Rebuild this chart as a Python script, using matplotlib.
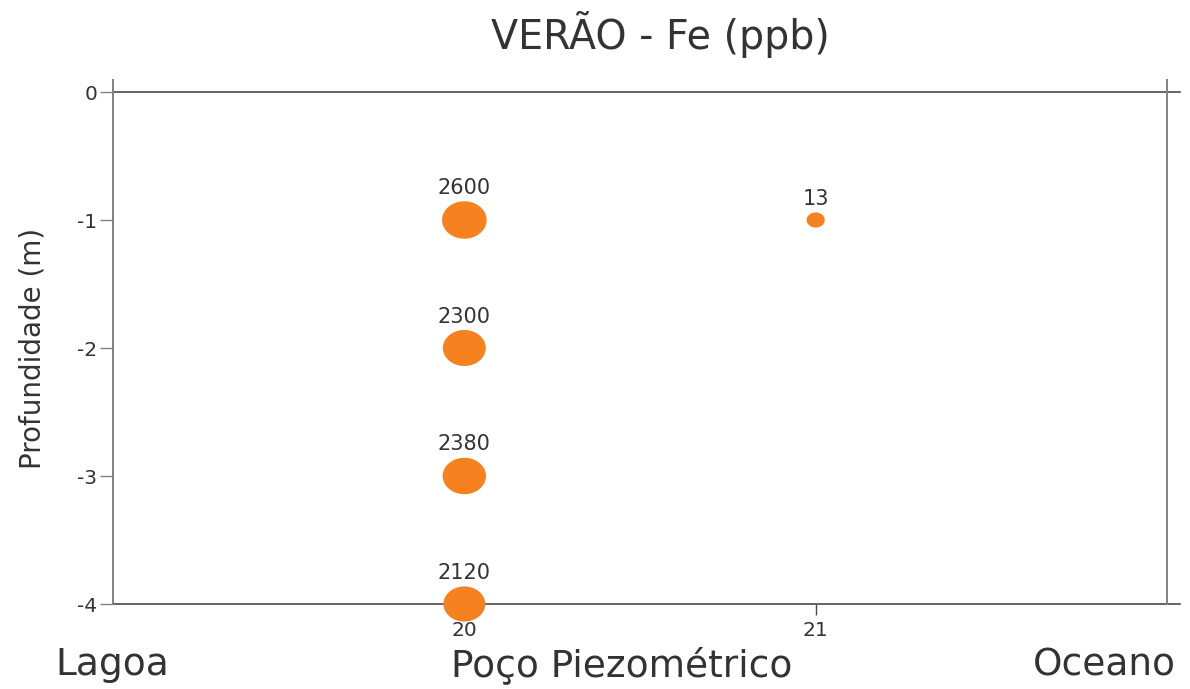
import matplotlib.pyplot as plt
import numpy as np
from matplotlib.path import Path

plt.rcParams['font.family'] = ['DejaVu Sans']

# Fe concentrations (ppb) per well and depth
wells = [20, 20, 20, 20, 21]
depths = [-1, -2, -3, -4, -1]
fe_ppb = [2600, 2300, 2380, 2120, 13]

x_ticks = [20, 21]
y_ticks = [0, -1, -2, -3, -4]
places = ['Lagoa', 'Poço Piezométrico', 'Oceano']

orange = '#f5821f'
line_dark = '#4a4a4a'
line_gray = '#808080'
txt = '#333333'

fig = plt.figure(figsize=(11.9, 6.89), dpi=100)
ax = fig.add_axes([113 / 1190, 1 - 604 / 689, (1167 - 113) / 1190, (604 - 92) / 689])
ax.set_xlim(19, 22)
ax.set_ylim(-4, 0)
for s in ax.spines.values():
    s.set_visible(False)

# frame lines, drawn a bit past the corners
ax.plot([19, 22.037], [0, 0], color=line_dark, lw=1.2, clip_on=False, zorder=1)
ax.plot([19, 22.037], [-4, -4], color=line_dark, lw=1.2, clip_on=False, zorder=1)
ax.plot([19, 19], [-4, 0.094], color=line_gray, lw=1.4, clip_on=False, zorder=1)
ax.plot([22, 22], [-4, 0.094], color=line_gray, lw=1.4, clip_on=False, zorder=1)

# slightly wide ellipse marker
t = np.linspace(0, 2 * np.pi, 100)
ell = Path(np.column_stack([np.cos(t), 0.84 * np.sin(t)]), closed=True)

vals = np.array(fe_ppb, dtype=float)
width_px = 16 + 0.56 * np.sqrt(vals)
width_pt = width_px * 0.72
ax.scatter(wells, depths, s=width_pt ** 2, marker=ell, color=orange,
           edgecolors='none', clip_on=False, zorder=3)

for x, y, v, w in zip(wells, depths, fe_ppb, width_pt):
    ax.annotate(str(v), (x, y), xytext=(0, w * 0.42 + 2.5), textcoords='offset points',
                ha='center', va='bottom', fontsize=15, color=txt, zorder=4)

ax.set_xticks(x_ticks)
ax.set_yticks(y_ticks)
ax.set_yticklabels([str(v) for v in y_ticks])
ax.tick_params(axis='y', direction='out', length=9.5, width=1.0, color=line_gray,
               labelsize=14.5, labelcolor=txt, pad=2)
ax.tick_params(axis='x', direction='out', length=8, width=1.0, color=line_dark,
               labelsize=14.5, labelcolor=txt, pad=4)

ax.set_ylabel('Profundidade (m)', fontsize=20, color=txt, labelpad=22)

fig.text(660 / 1190, 1 - 34 / 689, 'VERÃO - Fe (ppb)', ha='center', va='center',
         fontsize=28.5, color=txt)

fig.text(55 / 1190, 1 - 665 / 689, places[0], ha='left', va='center', fontsize=27, color=txt)
fig.text(622 / 1190, 1 - 665 / 689, places[1], ha='center', va='center', fontsize=27, color=txt)
fig.text(1176 / 1190, 1 - 665 / 689, places[2], ha='right', va='center', fontsize=27, color=txt)

fig.savefig('out.png', dpi=100)
